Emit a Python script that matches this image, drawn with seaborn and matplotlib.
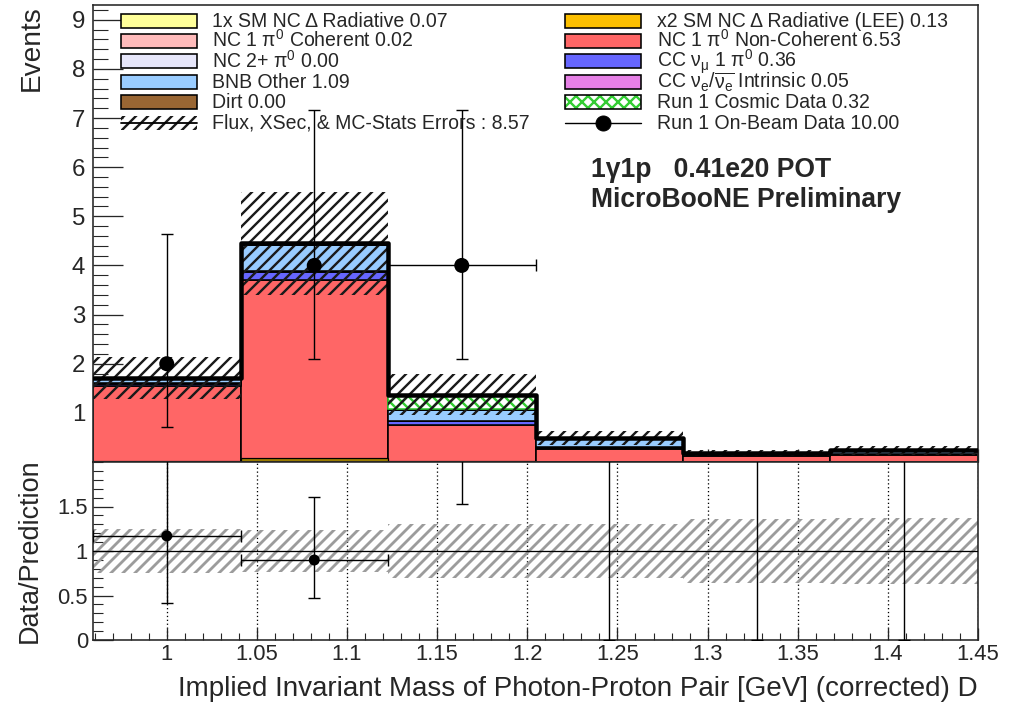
import numpy as np
import pandas as pd
import matplotlib
matplotlib.use("Agg")
import matplotlib.pyplot as plt
from matplotlib.patches import Rectangle
from matplotlib.lines import Line2D
from matplotlib.ticker import MultipleLocator, FixedLocator, FuncFormatter
import seaborn as sns

# ---------------------------------------------------------------------------
# Binning: implied invariant mass of the photon-proton pair [GeV]
bin_edges = [0.95909, 1.04091, 1.12273, 1.20455, 1.28636, 1.36818, 1.45]

# Stacked MC predictions per bin (events)
nc_pi0_noncoh = [1.55, 3.70, 0.76, 0.26, 0.12, 0.14]
cc_numu_pi0   = [0.04, 0.17, 0.07, 0.03, 0.02, 0.03]
cc_nue        = [0.01, 0.02, 0.01, 0.01, 0.00, 0.00]
bnb_other     = [0.09, 0.52, 0.21, 0.16, 0.04, 0.07]
nc_pi0_coh    = [0.00, 0.01, 0.01, 0.00, 0.00, 0.00]
nc_multi_pi0  = [0.00, 0.00, 0.00, 0.00, 0.00, 0.00]
dirt          = [0.00, 0.00, 0.00, 0.00, 0.00, 0.00]
sm_delta_rad  = [0.02, 0.03, 0.01, 0.01, 0.00, 0.00]
cosmic_data   = [0.00, 0.00, 0.30, 0.02, 0.00, 0.00]

# x2 SM NC Delta radiative (LEE) signal, overlaid (not stacked)
lee_delta_rad = [0.02, 0.09, 0.02, 0.00, 0.00, 0.00]

# Flux, XSec & MC-stat uncertainty on the stacked prediction
mc_error = [0.42, 1.05, 0.42, 0.15, 0.065, 0.09]

# Run 1 on-beam data with Poisson (Garwood) intervals
data_counts   = [2, 4, 4, 0, 0, 0]
data_err_low  = [1.29, 1.91, 1.91, 0.00, 0.00, 0.00]
data_err_high = [2.64, 3.16, 3.16, 1.84, 1.84, 1.84]
data_xerr_main = [False, False, True, False, False, False]

# ---------------------------------------------------------------------------
sns.set_theme(style="ticks")
plt.rcParams["font.family"] = ["Liberation Sans", "DejaVu Sans"]
plt.rcParams["mathtext.fontset"] = "custom"
plt.rcParams["mathtext.rm"] = "Liberation Sans"
plt.rcParams["mathtext.it"] = "Liberation Sans:italic"
plt.rcParams["mathtext.default"] = "regular"
plt.rcParams["axes.linewidth"] = 1.6

edges = np.array(bin_edges)
widths = np.diff(edges)
centers = edges[:-1] + widths / 2

components = [  # bottom of the stack first
    ("NC 1π0 Non-Coherent", nc_pi0_noncoh, "#ff6666"),
    ("CC νμ 1π0", cc_numu_pi0, "#6666ff"),
    ("CC νe Intrinsic", cc_nue, "#e680e6"),
    ("BNB Other", bnb_other, "#99ccff"),
    ("NC 1π0 Coherent", nc_pi0_coh, "#ffbbbb"),
    ("NC 2+ π0", nc_multi_pi0, "#e6e6fa"),
    ("Dirt", dirt, "#996633"),
    ("1x SM NC Δ Radiative", sm_delta_rad, "#ffff99"),
    ("Run 1 Cosmic Data", cosmic_data, "#ffffff"),
]
COSMIC_HATCH = "#33cc33"

rows = []
for name, vals, _ in components:
    for m, v in zip(centers, vals):
        rows.append((name, m, v))
stack_df = pd.DataFrame(rows, columns=["component", "mass", "events"])
palette = {name: col for name, _, col in components}
stack_order_top_first = [name for name, _, _ in components][::-1]

pred = np.sum([np.array(v) for _, v, _ in components], axis=0)
err = np.array(mc_error)
counts = np.array(data_counts, dtype=float)
lo = np.array(data_err_low)
hi = np.array(data_err_high)
has_data = counts > 0

# ---------------------------------------------------------------------------
W, H, DPI = 1017, 705, 72
fig = plt.figure(figsize=(W / DPI, H / DPI), dpi=DPI)
ax = fig.add_axes([93 / W, 1 - 462 / H, 885 / W, 457 / H])
rax = fig.add_axes([93 / W, 1 - 640 / H, 885 / W, 178 / H])

# stacked histogram
plt.rcParams["hatch.linewidth"] = 2.4
sns.histplot(data=stack_df, x="mass", weights="events", hue="component",
             hue_order=stack_order_top_first, palette=palette, bins=bin_edges,
             multiple="stack", element="bars", alpha=1, edgecolor="black",
             linewidth=1.6, legend=False, ax=ax, zorder=2)
for p in ax.patches:
    fc = p.get_facecolor()
    if np.allclose(fc[:3], (1, 1, 1)):
        p.set_hatch("xx")
        p.set_edgecolor(COSMIC_HATCH)

# LEE signal overlay
sns.histplot(x=centers, weights=lee_delta_rad, bins=bin_edges, element="bars",
             color="#9a7b00", alpha=1, edgecolor="black", linewidth=1.2,
             ax=ax, zorder=2.5)

# total-prediction outline
sns.histplot(x=centers, weights=pred, bins=bin_edges, element="step", fill=False,
             color="black", linewidth=4.5, ax=ax, zorder=4)

# systematic error band
plt.rcParams["hatch.linewidth"] = 2.4
ax.bar(edges[:-1], 2 * err, bottom=pred - err, width=widths, align="edge",
       facecolor="none", edgecolor="#1a1a1a", hatch="//", linewidth=0, zorder=3)

# data
ax.errorbar(centers[has_data], counts[has_data],
            yerr=[lo[has_data], hi[has_data]], fmt="none", ecolor="black",
            elinewidth=1.4, capsize=6, capthick=1.4, zorder=5)
xm = np.array(data_xerr_main) & has_data
ax.errorbar(centers[xm], counts[xm], xerr=widths[xm] / 2, fmt="none",
            ecolor="black", elinewidth=1.4, capsize=6, capthick=1.4, zorder=5)
sns.scatterplot(x=centers[has_data], y=counts[has_data], s=15 ** 2,
                color="black", edgecolor="none", ax=ax, zorder=6)

ax.set_xlim(edges[0], edges[-1])
ax.set_ylim(0, 9.3)
ax.xaxis.set_major_locator(MultipleLocator(0.05))
ax.xaxis.set_minor_locator(MultipleLocator(0.01))
ax.yaxis.set_major_locator(FixedLocator(range(1, 10)))
ax.yaxis.set_minor_locator(MultipleLocator(0.2))
ax.tick_params(axis="x", which="major", direction="in", length=13, width=1.3,
               labelbottom=False, top=False)
ax.tick_params(axis="x", which="minor", direction="in", length=6.5, width=1.1,
               top=False)
ax.tick_params(axis="y", which="major", direction="in", length=30, width=1.3,
               labelsize=24, pad=8, right=False)
ax.tick_params(axis="y", which="minor", direction="in", length=15, width=1.1,
               right=False)
ax.set_xlabel("")
ax.set_ylabel("Events", fontsize=28, loc="top")
ax.yaxis.set_label_coords(-0.055, 1.0)

# legend, two columns
def legend_key(col, row, kind, label, color=None):
    x0 = (0.0316, 0.5333)[col]
    xt = (0.1345, 0.6373)[col]
    kw = 0.0855
    yc = (462 - (20.7 + 20.4 * row)) / 457
    kh = 14 / 457
    tr = ax.transAxes
    if kind == "box":
        ax.add_patch(Rectangle((x0, yc - kh / 2), kw, kh, transform=tr,
                               facecolor=color, edgecolor="black", lw=1.6,
                               clip_on=False, zorder=7))
    elif kind == "cross":
        plt.rcParams["hatch.linewidth"] = 2.4
        ax.add_patch(Rectangle((x0, yc - kh / 2), kw, kh, transform=tr,
                               facecolor="white", edgecolor=COSMIC_HATCH,
                               hatch="xx", lw=0, zorder=7))
        ax.add_patch(Rectangle((x0, yc - kh / 2), kw, kh, transform=tr,
                               facecolor="none", edgecolor="black", lw=1.6,
                               zorder=7))
    elif kind == "band":
        plt.rcParams["hatch.linewidth"] = 2.4
        ax.add_patch(Rectangle((x0, yc - kh / 2), kw, kh, transform=tr,
                               facecolor="none", edgecolor="#1a1a1a", hatch="//",
                               lw=0, zorder=7))
        ax.add_line(Line2D([x0, x0 + kw], [yc, yc], transform=tr,
                           color="black", lw=1.8, zorder=7))
    elif kind == "data":
        ax.add_line(Line2D([x0, x0 + kw], [yc, yc], transform=tr,
                           color="black", lw=1.4, zorder=7))
        ax.add_line(Line2D([x0 + kw / 2], [yc], transform=tr, marker="o",
                           markersize=15, color="black", zorder=7))
    ax.text(xt, yc - 6.0 / 457, label, transform=tr, fontsize=19.5,
            va="baseline", ha="left", zorder=7)

tot = lambda v: f"{np.sum(v):.2f}"
legend_key(0, 0, "box", f"1x SM NC Δ Radiative {tot(sm_delta_rad)}", "#ffff99")
legend_key(0, 1, "box", f"NC 1 π$^0$ Coherent {tot(nc_pi0_coh)}", "#ffbbbb")
legend_key(0, 2, "box", f"NC 2+ π$^0$ {tot(nc_multi_pi0)}", "#e6e6fa")
legend_key(0, 3, "box", f"BNB Other {tot(bnb_other)}", "#99ccff")
legend_key(0, 4, "box", f"Dirt {tot(dirt)}", "#996633")
legend_key(0, 5, "band", "Flux, XSec, & MC-Stats Errors : "
           f"{np.sum(pred) + np.sum(lee_delta_rad):.2f}")
legend_key(1, 0, "box", f"x2 SM NC Δ Radiative (LEE) {tot(lee_delta_rad)}", "#fcbf00")
legend_key(1, 1, "box", f"NC 1 π$^0$ Non-Coherent {tot(nc_pi0_noncoh)}", "#ff6666")
legend_key(1, 2, "box", f"CC ν$_μ$ 1 π$^0$ {tot(cc_numu_pi0)}", "#6666ff")
legend_key(1, 3, "box", f"CC ν$_e$/$\\overline{{ν_e}}$ Intrinsic {tot(cc_nue)}", "#e680e6")
legend_key(1, 4, "cross", f"Run 1 Cosmic Data {tot(cosmic_data)}")
legend_key(1, 5, "data", f"Run 1 On-Beam Data {np.sum(counts):.2f}")

ax.text(0.5627, 0.6236, "1γ1p   0.41e20 POT", transform=ax.transAxes,
        fontsize=26.5, fontweight="bold", va="baseline")
ax.text(0.5627, 0.558, "MicroBooNE Preliminary", transform=ax.transAxes,
        fontsize=26.5, fontweight="bold", va="baseline")

# ---------------------------------------------------------------------------
# ratio panel
ratio = counts / pred
r_lo = lo / pred
r_hi = hi / pred
r_err = err / pred

plt.rcParams["hatch.linewidth"] = 2.8
rax.bar(edges[:-1], 2 * r_err, bottom=1 - r_err, width=widths, align="edge",
        facecolor="none", edgecolor="#9c9c9c", hatch="//", linewidth=0, zorder=2)
rax.axhline(1, color="black", lw=1.3, zorder=3)
rax.errorbar(centers, ratio, yerr=[r_lo, r_hi], fmt="none", ecolor="black",
             elinewidth=1.4, capsize=6, capthick=1.4, zorder=5)
rax.errorbar(centers[has_data], ratio[has_data], xerr=widths[has_data] / 2,
             fmt="none", ecolor="black", elinewidth=1.4, capsize=6,
             capthick=1.4, zorder=5)
sns.scatterplot(x=centers[has_data], y=ratio[has_data], s=11 ** 2,
                color="black", edgecolor="none", ax=rax, zorder=6)

rax.set_xlim(edges[0], edges[-1])
rax.set_ylim(0, 2)
rax.xaxis.set_major_locator(MultipleLocator(0.05))
rax.xaxis.set_minor_locator(MultipleLocator(0.01))
rax.yaxis.set_major_locator(FixedLocator([0, 0.5, 1, 1.5]))
rax.yaxis.set_minor_locator(MultipleLocator(0.1))
fmt = FuncFormatter(lambda v, _: f"{v:g}")
rax.xaxis.set_major_formatter(fmt)
rax.yaxis.set_major_formatter(fmt)
rax.grid(axis="x", which="major", color="black", linestyle=(0, (1, 2)),
         linewidth=1.3)
rax.tick_params(axis="x", which="major", direction="in", length=12, width=1.3,
                labelsize=22, pad=4, top=False)
rax.tick_params(axis="x", which="minor", direction="in", length=7, width=1.1,
                top=False)
rax.tick_params(axis="y", which="major", direction="in", length=20, width=1.3,
                labelsize=22, pad=5, right=False)
rax.tick_params(axis="y", which="minor", direction="in", length=10, width=1.1,
                right=False)
rax.set_ylabel("Data/Prediction", fontsize=27)
rax.yaxis.set_label_coords(-0.057, 0.5)
rax.set_xlabel("Implied Invariant Mass of Photon-Proton Pair [GeV] (corrected) D",
               fontsize=27.8, loc="right")
rax.xaxis.set_label_coords(1.0, -0.2)

fig.savefig("out.png", dpi=DPI)
